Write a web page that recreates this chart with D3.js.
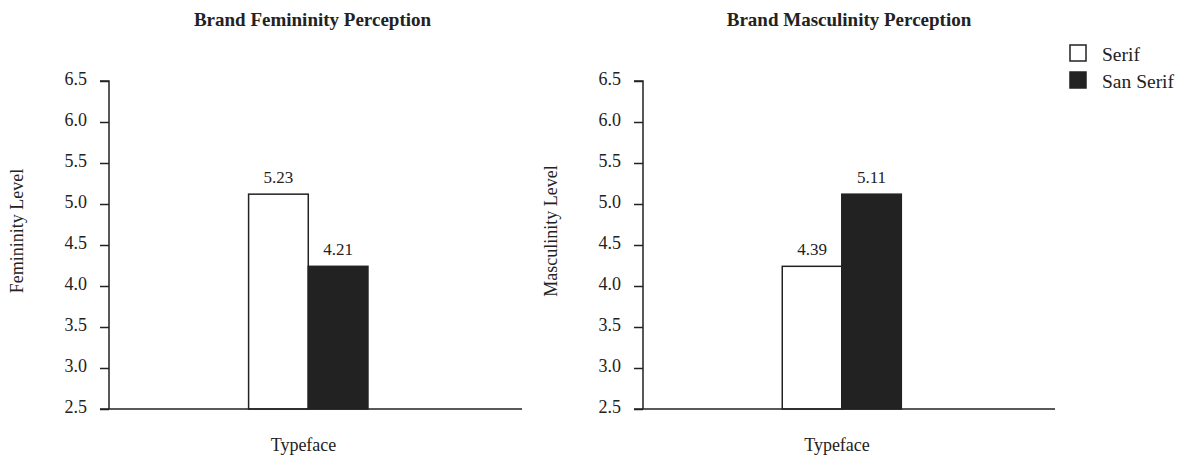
<!DOCTYPE html>
<html><head><meta charset="utf-8">
<script src="https://cdn.jsdelivr.net/npm/d3@7"></script>
<style>body{margin:0;background:#fff}svg{display:block}text{font-family:"Liberation Serif","Times New Roman",serif;fill:#222}</style>
</head><body><svg id="c" width="1178" height="456"></svg>
<script>
const series = ["Serif", "San Serif"];
const femininityValues = [5.12, 4.24];
const femininityLabels = ["5.23", "4.21"];
const masculinityValues = [4.24, 5.12];
const masculinityLabels = ["4.39", "5.11"];
const yTicks = [2.5, 3.0, 3.5, 4.0, 4.5, 5.0, 5.5, 6.0, 6.5];
const panels = [
  {title: "Brand Femininity Perception", ylabel: "Femininity Level", values: femininityValues, labels: femininityLabels, x0: 109, x1: 522, tdx: -3},
  {title: "Brand Masculinity Perception", ylabel: "Masculinity Level", values: masculinityValues, labels: masculinityLabels, x0: 643, x1: 1055, tdx: 0}
];
const fills = ["#ffffff", "#222222"];
const svg = d3.select("#c");
const yTop = 81, yBot = 409;
const y = d3.scaleLinear().domain([2.5, 6.5]).range([yBot, yTop]);

panels.forEach(p => {
  const g = svg.append("g");
  const w = p.x1 - p.x0;
  const x = d3.scaleBand().domain(series).range([p.x0 + w * 0.338, p.x0 + w * 0.627]).padding(0);
  g.selectAll("rect.bar").data(p.values).join("rect")
    .attr("x", (d, i) => x(series[i]))
    .attr("y", d => y(d))
    .attr("width", x.bandwidth())
    .attr("height", d => yBot - y(d))
    .attr("fill", (d, i) => fills[i])
    .attr("stroke", "#222").attr("stroke-width", 1.5);
  g.selectAll("text.val").data(p.values).join("text")
    .attr("x", (d, i) => x(series[i]) + x.bandwidth() / 2)
    .attr("y", d => y(d) - 11)
    .attr("text-anchor", "middle").attr("font-size", 17)
    .text((d, i) => p.labels[i]);
  const ax = d3.axisLeft(y).tickValues(yTicks).tickFormat(d3.format(".1f")).tickSize(9).tickPadding(13);
  const ag = g.append("g").attr("transform", `translate(${p.x0},0)`).call(ax);
  ag.select(".domain").attr("stroke", "#222").attr("stroke-width", 1.5).attr("d", `M-9,${yTop}H0V${yBot}`);
  ag.selectAll(".tick line").attr("stroke", "#222").attr("stroke-width", 1.5);
  ag.selectAll(".tick text").attr("font-size", 18).attr("dy", "0.2em").attr("fill", "#222");
  g.append("line").attr("x1", p.x0 - 9).attr("x2", p.x1).attr("y1", yBot).attr("y2", yBot)
    .attr("stroke", "#222").attr("stroke-width", 1.5);
  g.append("text").attr("x", (p.x0 + p.x1) / 2 + p.tdx).attr("y", 26).attr("text-anchor", "middle")
    .attr("font-size", 19).attr("font-weight", "bold").text(p.title);
  g.append("text").attr("transform", `translate(${p.x0 - 86},231) rotate(-90)`)
    .attr("text-anchor", "middle").attr("font-size", 18).text(p.ylabel);
  g.append("text").attr("x", (p.x0 + p.x1) / 2 - 12).attr("y", 451).attr("text-anchor", "middle")
    .attr("font-size", 18).text("Typeface");
});

const leg = svg.append("g").attr("transform", "translate(1070,45)");
series.forEach((s, i) => {
  leg.append("rect").attr("x", 0).attr("y", i * 27).attr("width", 16).attr("height", 16)
    .attr("fill", fills[i]).attr("stroke", "#222").attr("stroke-width", 1.5);
  leg.append("text").attr("x", 32).attr("y", i * 27 + 16).attr("font-size", 19.5).text(s);
});
</script></body></html>
